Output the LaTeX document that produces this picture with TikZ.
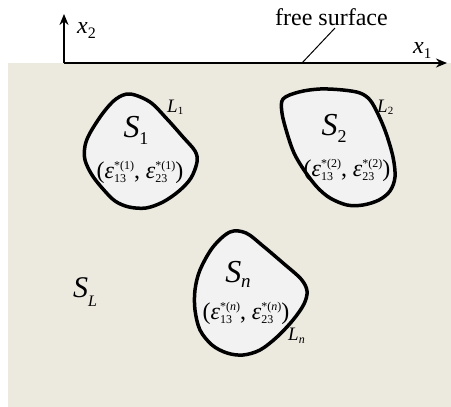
\documentclass[tikz,border=0pt]{standalone}
\usepackage{fontspec}
\setmainfont{Liberation Serif}
\usetikzlibrary{arrows.meta}
\definecolor{matrixbg}{RGB}{236,233,223}
\definecolor{inclfill}{RGB}{242,242,242}
\newcommand\fs[1]{\fontsize{#1}{#1}\selectfont}
% symbol with subscript: #1 size, #2 base, #3 sub size, #4 sub, #5 drop
\newcommand\symsub[5]{{\fs{#1}\itshape #2}\raisebox{-#5pt}{\fs{#3}#4}}
% epsilon with stacked sub/sup
\newcommand\epsc[2]{\textit{ε}\makebox[0pt][l]{\raisebox{-4pt}{\fs{12}#1}}\raisebox{9pt}{\fs{12}*(#2)}}
\begin{document}
\begin{tikzpicture}[x=1pt,y=-1pt,
  incl/.style={line width=3.5pt, fill=inclfill, draw=black, line join=round},
  lbl/.style={inner sep=0pt, anchor=base},
  lblw/.style={inner sep=0pt, anchor=base west},
  axis/.style={line width=1.8pt, -{Stealth[length=11pt,width=9pt]}}]
\useasboundingbox (0,0) rectangle (451,407);
\fill[matrixbg] (8,63) rectangle (451,407);
% axes
\coordinate (O) at (64,63);
\coordinate (X) at (447,63);
\coordinate (Y) at (64,14);
\draw[axis] (O) -- (X);
\draw[axis] (O) -- (Y);
\node[lblw] (x2) at (77,33) {\symsub{24}{x}{16}{2}{5}};
\node[lblw] (x1) at (413,53) {\symsub{24}{x}{15}{1}{5}};
\node[lblw] (free) at (275,25) {\fs{24}free surface};
\coordinate (fsa) at (302,63);
\coordinate (fsb) at (335,28);
\draw[line width=1pt] (fsa) -- (fsb);
% inclusion 1
\draw[incl] plot[smooth cycle, tension=0.55] coordinates {
 (130,94) (150,102) (167,119) (183,137) (195,151) (197,162) (191,178) (179,191)
 (163,202) (146,208) (129,207) (115,201) (103,189) (92,175) (85,160) (85,146)
 (90,133) (103,113) (116,99)};
% inclusion 2
\draw[incl] plot[smooth cycle, tension=0.55] coordinates {
 (283,99) (299,92) (320,89) (343,90) (360,93) (370,100) (378,114) (386,133)
 (393,157) (395,177) (390,191) (379,200) (363,205) (347,205) (330,198) (317,187)
 (304,170) (294,153) (287,133) (282,113)};
% inclusion n
\draw[incl] plot[smooth cycle, tension=0.55] coordinates {
 (230,232) (246,233) (263,246) (283,263) (301,279) (307,291) (304,304) (293,320)
 (277,337) (260,350) (243,355) (227,353) (212,345) (200,330) (195,310) (195,290)
 (200,270) (213,247)};
% labels
\node[lbl] (S1) at (136,137) {\symsub{32}{S}{18}{1}{7}};
\node[lbl] (e1) at (140,178) {\fs{24}(\epsc{13}{1}, \epsc{23}{1})};
\node[lblw] (L1) at (167,112) {\symsub{19}{L}{11}{1}{2}};
\node[lbl] (S2) at (334,135) {\symsub{32}{S}{18}{2}{7}};
\node[lbl] (e2) at (347,176) {\fs{24}(\epsc{13}{2}, \epsc{23}{2})};
\node[lblw] (L2) at (377,112) {\symsub{19}{L}{11}{2}{2}};
\node[lbl] (Sn) at (238,282) {\symsub{32}{S}{19}{\itshape n}{5}};
\node[lbl] (en) at (246,319) {\fs{24}(\epsc{13}{\textit{n}}, \epsc{23}{\textit{n}})};
\node[lblw] (Ln) at (288,340) {\symsub{19}{L}{12}{\itshape n}{3}};
\node[lbl] (SL) at (85,297) {\symsub{30}{S}{16}{\itshape L}{9}};
\end{tikzpicture}
\end{document}
